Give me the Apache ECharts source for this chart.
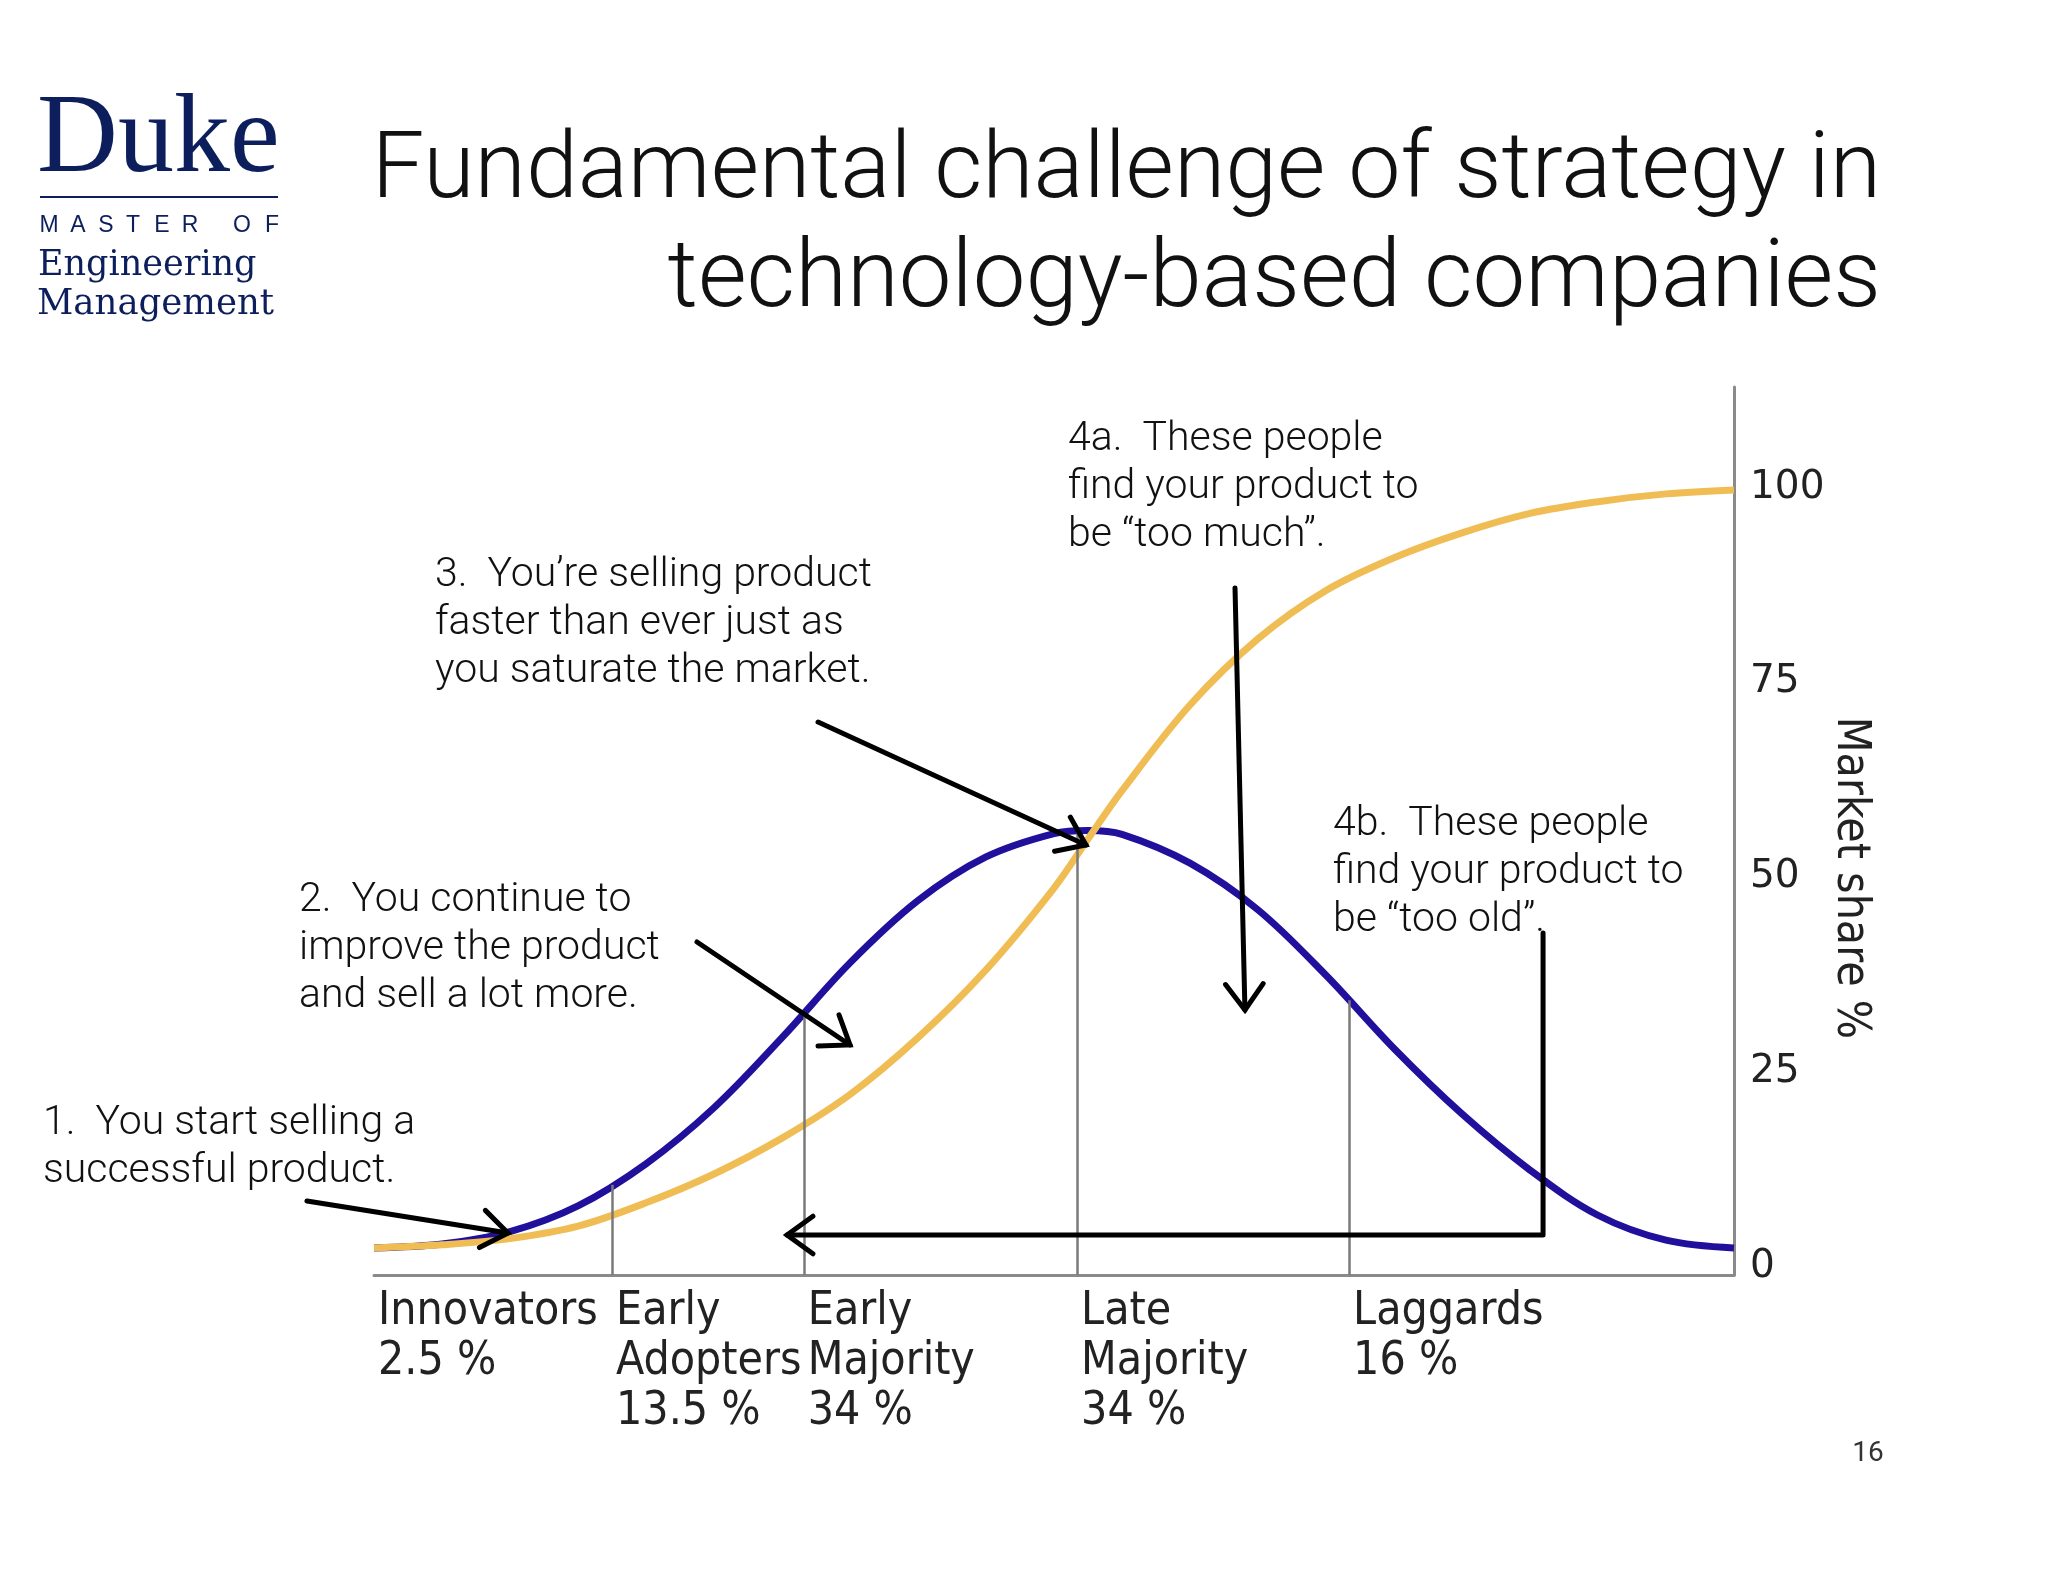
<!DOCTYPE html>
<html><head><meta charset="utf-8">
<script src="https://cdn.jsdelivr.net/npm/echarts@6/dist/echarts.min.js"></script>
<style>html,body{margin:0;padding:0;background:#fff}#c{width:2048px;height:1582px}</style>
</head><body><div id="c"></div>
<script>
// ---- data ----
const xPos = [0,5,10,15,20,25,30,35,40,45,50,52.5,55,60,65,70,75,80,85,90,95,100];
const adoptionRate = [1.8,2.3,3.9,7.2,12.6,19.8,28.8,38.4,46.4,52.0,55.0,55.4,54.9,51.2,45.2,36.8,27.4,19.0,11.8,6.0,2.8,1.8];
const marketShare = [1.8,2.2,3.0,4.6,7.6,11.3,15.9,21.5,28.8,37.5,48.0,54.3,60.5,71.5,80.0,86.2,90.4,93.6,96.1,97.6,98.6,99.1];
const segmentNames = ['Innovators\n2.5 %','Early\nAdopters\n13.5 %','Early\nMajority\n34 %','Late\nMajority\n34 %','Laggards\n16 %'];
const segmentStarts = [0,17.5,31.6,51.7,71.7];
const boundaryX = [17.5,31.6,51.7,71.7];
const boundaryTop = [9.9,32.0,55.2,33.6];
const yTicks = [0,25,50,75,100];
const yName = 'Market share %';
const titleLines = ['Fundamental challenge of strategy in','technology-based companies'];
const notes = [
  {text:'1.  You start selling a\nsuccessful product.', x:43, y:1100},
  {text:'2.  You continue to\nimprove the product\nand sell a lot more.', x:299, y:877},
  {text:'3.  You\u2019re selling product\nfaster than ever just as\nyou saturate the market.', x:435, y:552},
  {text:'4a.  These people\nfind your product to\nbe \u201ctoo much\u201d.', x:1068, y:416},
  {text:'4b.  These people\nfind your product to\nbe \u201ctoo old\u201d.', x:1333, y:801}
];
// arrows in data coordinates (x units, market share units)
const arrows = [
  [[-4.93,7.83],[9.85,3.72]],
  [[23.75,41.08],[35.0,27.86]],
  [[32.65,69.32],[52.35,53.53]],
  [[63.31,86.52],[64.04,32.35]],
  [[85.96,42.23],[85.96,3.47],[30.37,3.47]]
];
const pageNumber = '16';

const Y_MIN = -1.669, Y_MAX = 112.32;
const NAVY = '#0c1f5c';
const chart = echarts.init(document.getElementById('c'), null, {renderer:'canvas'});

const option = {
  animation:false,
  backgroundColor:'#ffffff',
  grid:{left:374, right:314, top:387, bottom:307, containLabel:false},
  xAxis:{type:'value', min:0, max:100,
    axisLine:{onZero:false, lineStyle:{color:'#8a8a8a', width:3}},
    axisTick:{show:false}, splitLine:{show:false},
    axisLabel:{customValues:segmentStarts, formatter:(v,i)=>segmentNames[segmentStarts.indexOf(v)] || '',
      align:'left', verticalAlign:'top', margin:12, padding:[0,0,0,4],
      fontFamily:'DejaVu Sans Condensed', fontSize:46, lineHeight:50, color:'#222'}},
  yAxis:{type:'value', position:'right', min:Y_MIN, max:Y_MAX,
    axisLine:{show:true, onZero:false, lineStyle:{color:'#8a8a8a', width:3}},
    axisTick:{show:false}, splitLine:{show:false},
    axisLabel:{customValues:yTicks, margin:16, formatter:v=>'{t|'+v+'}',
      rich:{t:{fontFamily:'DejaVu Sans', fontSize:39, color:'#222', padding:[9,0,0,0]}}}},
  series:[
    {type:'line', z:2, data:boundaryX.map((x,i)=>[x,boundaryTop[i]]), showSymbol:false,
      lineStyle:{opacity:0}, silent:true,
      markLine:{silent:true, symbol:'none', label:{show:false}, animation:false,
        lineStyle:{color:'#7a7a7a', width:2.5, type:'solid'},
        data:boundaryX.map((x,i)=>[{coord:[x,Y_MIN]},{coord:[x,boundaryTop[i]]}])}},
    {type:'line', z:3, data:xPos.map((x,i)=>[x,adoptionRate[i]]), smooth:0.35, showSymbol:false,
      lineStyle:{color:'#20109c', width:7}},
    {type:'line', z:4, data:xPos.map((x,i)=>[x,marketShare[i]]), smooth:0.35, showSymbol:false,
      lineStyle:{color:'#f0bd55', width:7}}
  ]
};
chart.setOption(option);

// ---- annotation graphics ----
const g = [];
// title
const titleSizes = [93.4, 94.2];
titleLines.forEach((t,i)=>{
  g.push({type:'text', x:1881, y:[174,282][i], style:{text:t, fill:'#111', font:'300 '+titleSizes[i]+'px Roboto', align:'right', verticalAlign:'middle'}});
});
// logo
g.push({type:'text', x:37, y:142, style:{text:'Duke', fill:NAVY, font:'112px "Liberation Serif"', align:'left', verticalAlign:'middle'}});
g.push({type:'line', shape:{x1:40,y1:197,x2:278,y2:197}, style:{stroke:NAVY, lineWidth:2}});
const masterLetters = ['M','A','S','T','E','R','O','F'];
const masterX = [49,78,106,133,162,190,242,272];
masterLetters.forEach((l,i)=>g.push({type:'text', x:masterX[i], y:226, style:{text:l, fill:NAVY, font:'23px "Liberation Sans"', align:'center', verticalAlign:'middle'}}));
g.push({type:'text', x:38, y:266, style:{text:'Engineering', fill:NAVY, font:'35px "DejaVu Serif"', align:'left', verticalAlign:'middle'}});
g.push({type:'text', x:37, y:305, style:{text:'Management', fill:NAVY, font:'35.5px "DejaVu Serif"', align:'left', verticalAlign:'middle'}});
// notes
notes.forEach(n=>g.push({type:'text', x:n.x, y:n.y, style:{text:n.text, fill:'#111', font:'300 41px Roboto', lineHeight:48, align:'left', verticalAlign:'top'}}));
// y axis name
g.push({type:'text', x:1850, y:878, rotation:-Math.PI/2, style:{text:yName, fill:'#222', font:'46px "DejaVu Sans Condensed"', align:'center', verticalAlign:'middle'}});
// page number
g.push({type:'text', x:1868, y:1454, style:{text:pageNumber, fill:'#333', font:'28px Roboto', align:'center', verticalAlign:'middle'}});
// arrows
arrows.forEach(a=>{
  const pts = a.map(p=>chart.convertToPixel({gridIndex:0}, p));
  g.push({type:'polyline', shape:{points:pts}, style:{stroke:'#000', lineWidth:5, fill:null, lineCap:'round', lineJoin:'round'}, z:10});
  const tip = pts[pts.length-1], prev = pts[pts.length-2];
  const ang = Math.atan2(prev[1]-tip[1], prev[0]-tip[0]);
  const L = 32, h = 36*Math.PI/180;
  const p1 = [tip[0]+L*Math.cos(ang+h), tip[1]+L*Math.sin(ang+h)];
  const p2 = [tip[0]+L*Math.cos(ang-h), tip[1]+L*Math.sin(ang-h)];
  g.push({type:'polyline', shape:{points:[p1,tip,p2]}, style:{stroke:'#000', lineWidth:5, fill:null, lineCap:'round', lineJoin:'miter'}, z:10});
});
chart.setOption({graphic:{elements:g}});
</script></body></html>
